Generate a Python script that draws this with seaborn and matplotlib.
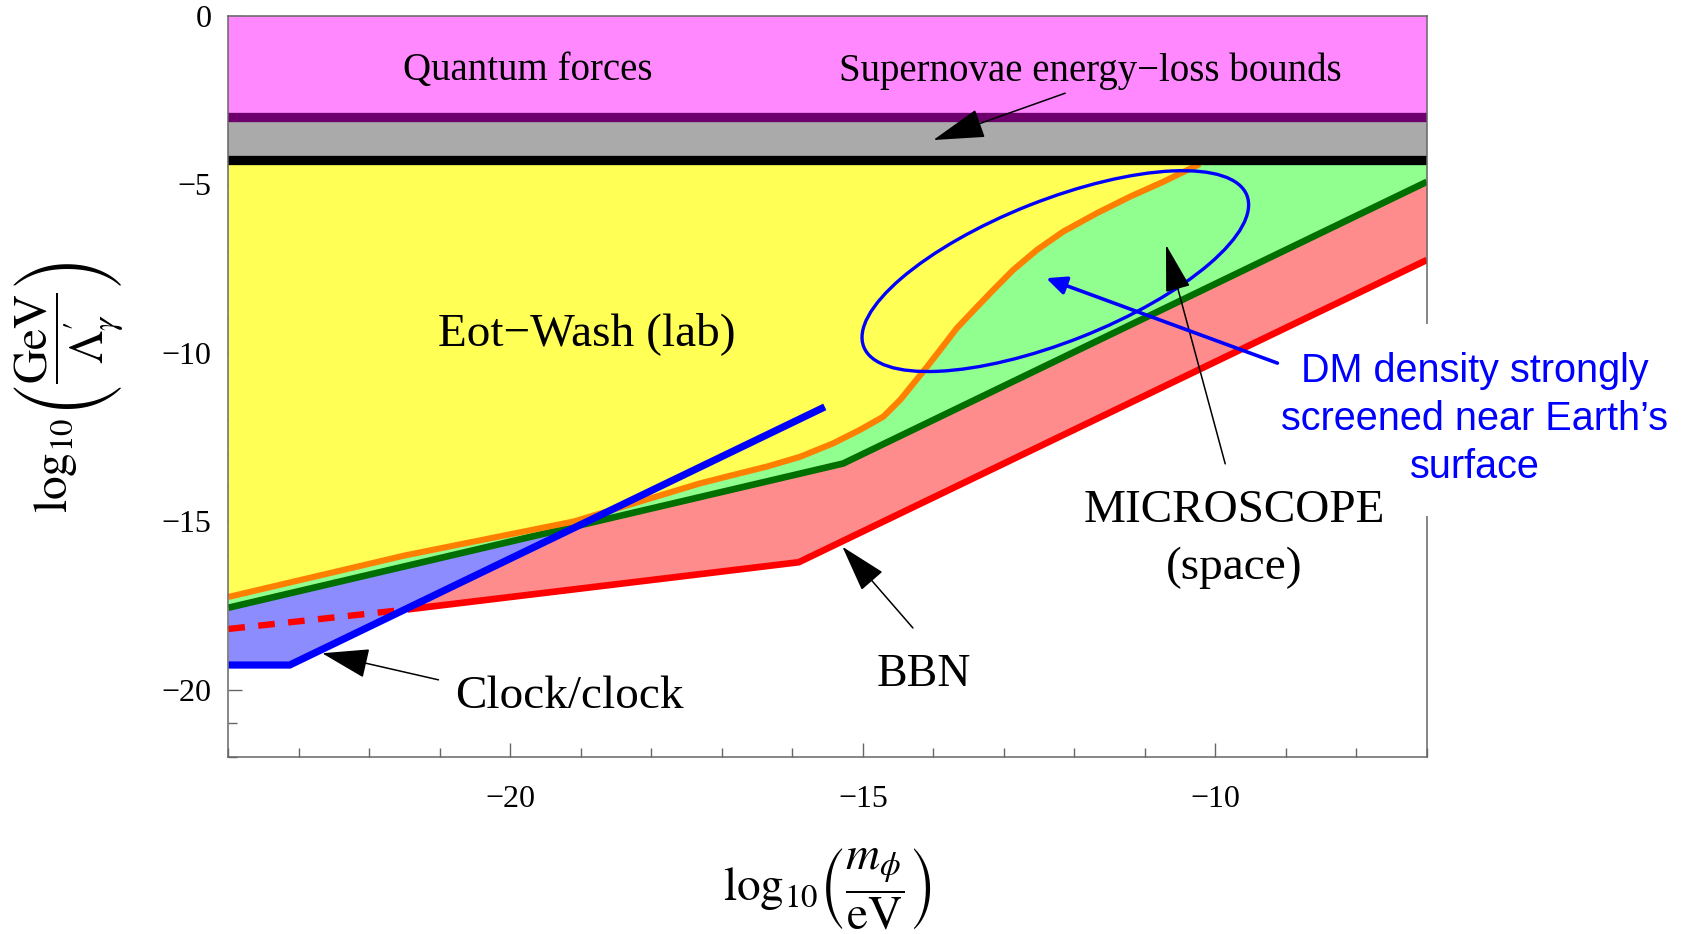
import numpy as np
import matplotlib
matplotlib.use("Agg")
import matplotlib.pyplot as plt
from matplotlib.patches import Ellipse, Rectangle
from matplotlib.transforms import ScaledTranslation
from matplotlib.ticker import MultipleLocator, FixedLocator
import seaborn as sns

# ---- axis ranges: log10(m_phi/eV) and log10(GeV/Lambda'_gamma) ----
x_range = (-24.0, -7.0)
y_range = (-22.0, 0.0)
x_major = [-20, -15, -10]
y_major = [0, -5, -10, -15, -20]

# ---- horizontal exclusion bounds ----
quantum_bound = -3.01      # quantum forces (above)
supernova_bound = -4.29    # supernovae energy-loss (above)

# ---- Eot-Wash (lab) boundary ----
eotwash_x = [-24.0, -21.5, -19.1, -17.31, -16.84, -16.36, -15.89, -15.42,
             -15.04, -14.71, -14.47, -14.28, -14.09, -13.86, -13.67, -13.38,
             -13.15, -12.87, -12.53, -12.16, -11.68, -11.21, -10.74, -10.22]
eotwash_y = [-17.25, -16.02, -15.01, -13.88, -13.63, -13.38, -13.09, -12.69,
             -12.29, -11.90, -11.40, -10.91, -10.42, -9.80, -9.28, -8.64,
             -8.14, -7.55, -6.95, -6.41, -5.86, -5.37, -4.93, -4.40]

# ---- MICROSCOPE (space) boundary ----
microscope_x = [-24.0, -15.28, -7.0]
microscope_y = [-17.57, -13.29, -4.93]

# ---- BBN boundary (dashed part lies inside the clock region) ----
bbn_dashed_x = [-24.0, -21.46]
bbn_dashed_y = [-18.20, -17.62]
bbn_x = [-21.46, -15.91, -7.0]
bbn_y = [-17.62, -16.22, -7.25]

# ---- Clock/clock boundary ----
clock_x = [-24.0, -23.13, -15.54]
clock_y = [-19.27, -19.27, -11.61]

# ---- colours ----
c_quantum = "#FF88FF"
c_purple = "#6E006E"
c_super = "#AAAAAA"
c_eot_fill = "#FFFF55"
c_eot_line = "#FF8000"
c_mic_fill = "#90FF90"
c_mic_line = "#006E00"
c_bbn_fill = "#FF8C8C"
c_bbn_line = "#FF0000"
c_clock_fill = "#8C8CFF"
c_clock_line = "#0000FF"
c_frame = "#666666"

sns.set_theme(style="white")
plt.rcParams["font.family"] = ["Liberation Serif", "DejaVu Serif"]
plt.rcParams["mathtext.fontset"] = "stix"
plt.rcParams["axes.unicode_minus"] = True
plt.rcParams["text.color"] = "black"
plt.rcParams["axes.labelcolor"] = "black"

fig = plt.figure(figsize=(16.83, 9.34), dpi=100)
ax = fig.add_axes([0.1357, 0.1895, 0.7121, 0.7937])
ax.set_xlim(*x_range)
ax.set_ylim(*y_range)

# common grid for the shaded regions between piecewise-linear boundaries
xg = np.linspace(x_range[0], x_range[1], 3401)
mic_g = np.interp(xg, microscope_x, microscope_y)
bbn_g = np.interp(xg, bbn_dashed_x + bbn_x[1:], bbn_dashed_y + bbn_y[1:])
clock_g = np.interp(xg, clock_x, clock_y)
eot_g = np.interp(xg, eotwash_x, eotwash_y)
eot_in = xg <= eotwash_x[-1]

# top bands
ax.axhspan(quantum_bound, y_range[1], color=c_quantum, lw=0, zorder=1)
ax.axhspan(supernova_bound, quantum_bound, color=c_super, lw=0, zorder=1)

# MICROSCOPE region
ax.fill_between(xg, mic_g, supernova_bound, color=c_mic_fill, lw=0, zorder=1.1)
# BBN region
ax.fill_between(xg, bbn_g, mic_g, color=c_bbn_fill, lw=0, zorder=1.2)
# Eot-Wash region
ax.fill_between(xg, eot_g, supernova_bound, where=eot_in, color=c_eot_fill,
                lw=0, zorder=1.3)
# Clock/clock region
ax.fill_between(xg, clock_g, mic_g,
                where=(clock_g <= mic_g) & (xg <= clock_x[-1]),
                interpolate=True, color=c_clock_fill, lw=0, zorder=1.4)

# boundary lines
ax.plot(bbn_dashed_x, bbn_dashed_y, color=c_bbn_line, lw=4.6,
        linestyle=(0, (2.6, 2.1)), zorder=3)
sns.lineplot(x=bbn_x, y=bbn_y, ax=ax, color=c_bbn_line, lw=4.8,
             estimator=None, sort=False, solid_capstyle="butt",
             solid_joinstyle="miter", zorder=3)
sns.lineplot(x=microscope_x, y=microscope_y, ax=ax, color=c_mic_line, lw=4.8,
             estimator=None, sort=False, solid_capstyle="butt",
             solid_joinstyle="miter", zorder=3.1)
sns.lineplot(x=eotwash_x, y=eotwash_y, ax=ax, color=c_eot_line, lw=4.4,
             estimator=None, sort=False, solid_capstyle="butt",
             solid_joinstyle="round", zorder=3.2)
sns.lineplot(x=clock_x, y=clock_y, ax=ax, color=c_clock_line, lw=5.2,
             estimator=None, sort=False, solid_capstyle="butt",
             solid_joinstyle="miter", zorder=3.3)

ax.axhline(quantum_bound, color=c_purple, lw=6.7, zorder=4)
ax.axhline(supernova_bound, color="black", lw=6.7, zorder=4)

# highlighted parameter space
ellipse_center = (-12.27, -7.58)
ell = Ellipse((0, 0), 4.12, 1.416, angle=21.6, fill=False,
              edgecolor=c_clock_line, lw=2.4, zorder=5,
              transform=fig.dpi_scale_trans
              + ScaledTranslation(*ellipse_center, ax.transData))
ax.add_patch(ell)

# region labels
ax.text(-19.76, -1.64, "Quantum forces", ha="center", va="center",
        fontsize=28, zorder=6)
ax.text(-11.77, -1.64, "Supernovae energy\u2212loss bounds", ha="center",
        va="center", fontsize=28, zorder=6)
ax.text(-18.91, -9.42, "Eot\u2212Wash (lab)", ha="center", va="center",
        fontsize=34, zorder=6)
ax.text(-19.17, -20.2, "Clock/clock", ha="center", va="center",
        fontsize=34, zorder=6)
ax.text(-14.13, -19.56, "BBN", ha="center", va="center", fontsize=33, zorder=6)
ax.text(-9.73, -14.69, "MICROSCOPE", ha="center", va="center", fontsize=34,
        zorder=6)
ax.text(-9.73, -16.38, "(space)", ha="center", va="center", fontsize=34,
        zorder=6)

# side note, with a white strip interrupting the right frame behind it
ax.add_patch(Rectangle((0.994, -14.85), 0.012, 5.7,
                       transform=ax.get_yaxis_transform(), fc="white",
                       ec="none", clip_on=False, zorder=5.6))
ax.text(-6.32, -11.98,
        "DM density strongly\nscreened near Earth\u2019s\nsurface",
        ha="center", va="center", fontsize=28.5, color=c_clock_line,
        family=["Liberation Sans", "DejaVu Sans"], linespacing=1.33,
        clip_on=False, zorder=6)

# pointer arrows
def pointer(tail, tip, hl, hw, lw=1.1, color="black"):
    ax.annotate("", xy=tip, xytext=tail, zorder=6,
                arrowprops=dict(arrowstyle=f"-|>,head_length={hl},head_width={hw}",
                                color=color, lw=lw, mutation_scale=10,
                                shrinkA=0, shrinkB=0))

pointer((-12.13, -2.30), (-14.0, -3.69), 3.3, 0.95)
pointer((-9.86, -13.30), (-10.70, -6.80), 3.0, 0.8)
pointer((-14.29, -18.17), (-15.29, -15.76), 3.0, 0.9)
pointer((-21.02, -19.71), (-22.67, -18.92), 3.0, 0.95)
pointer((-9.12, -10.31), (-12.40, -7.79), 1.2, 0.55, lw=2.6, color=c_clock_line)

# axes styling
ax.xaxis.set_major_locator(FixedLocator(x_major))
ax.yaxis.set_major_locator(FixedLocator(y_major))
ax.xaxis.set_minor_locator(MultipleLocator(1))
ax.yaxis.set_minor_locator(MultipleLocator(1))
ax.tick_params(which="both", direction="in", top=False, right=False,
               bottom=True, left=True, color=c_frame, width=1.0,
               labelcolor="black")
ax.tick_params(which="major", length=10)
ax.tick_params(which="minor", length=6.5)
ax.tick_params(axis="x", which="major", labelsize=23, pad=20)
ax.tick_params(axis="y", which="major", labelsize=23, pad=12)
for s in ax.spines.values():
    s.set_color(c_frame)
    s.set_linewidth(1.1)
    s.set_zorder(5.5)

ax.set_xlabel(r"$\log_{10}\!\left(\dfrac{m_{\phi}}{\mathrm{eV}}\right)$",
              fontsize=34, va="center", ha="center", color="black")
ax.xaxis.set_label_coords(0.4995, -0.178)
ax.set_ylabel(r"$\log_{10}\!\left(\dfrac{\mathrm{GeV}}{\Lambda^{\prime}_{\gamma}}\right)$",
              fontsize=34, va="center", ha="center", color="black")
ax.yaxis.set_label_coords(-0.1338, 0.498)

fig.savefig("out.png", dpi=100)
